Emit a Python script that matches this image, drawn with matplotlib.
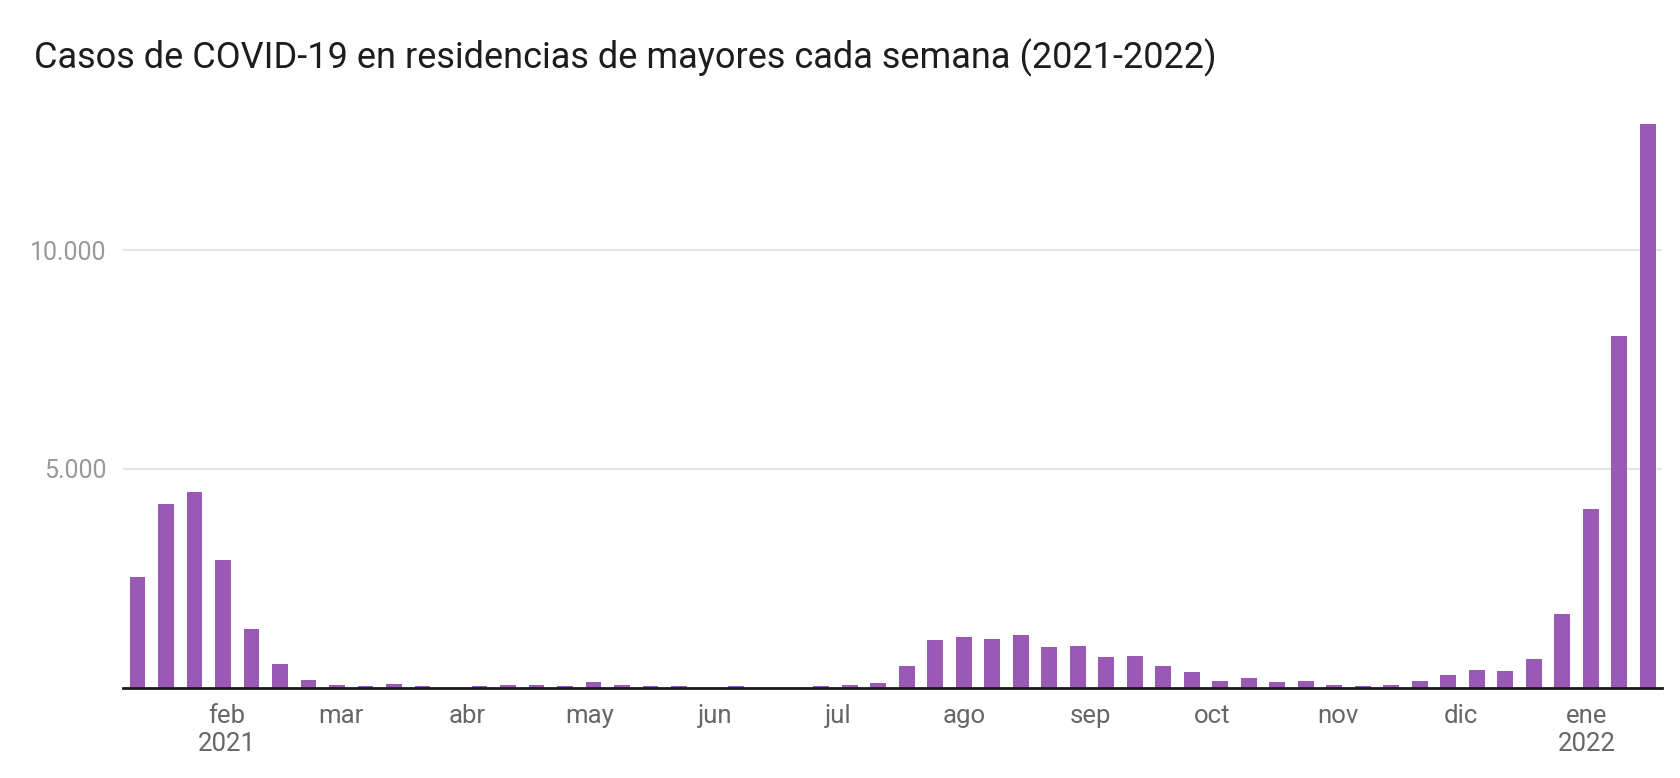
import matplotlib
matplotlib.use('Agg')
import matplotlib.pyplot as plt
import numpy as np

plt.rcParams['font.family'] = ['Roboto', 'DejaVu Sans']

# weekly cases, first week Jan 10 2021, last week Jan 16 2022
week_start = np.datetime64('2021-01-10')
cases = [2527, 4198, 4473, 2916, 1336, 534, 168, 53, 30, 76,
         30, 0, 30, 53, 53, 30, 122, 53, 35, 35,
         0, 35, 0, 0, 35, 61, 107, 495, 1090, 1158,
         1113, 1204, 930, 953, 701, 724, 495, 358, 152, 221,
         130, 152, 61, 38, 61, 152, 290, 404, 381, 655,
         1684, 4084, 8037, 12882]
weeks = week_start + np.arange(len(cases)) * np.timedelta64(7, 'D')

month_ticks = ['2021-02-01', '2021-03-01', '2021-04-01', '2021-05-01', '2021-06-01',
               '2021-07-01', '2021-08-01', '2021-09-01', '2021-10-01', '2021-11-01',
               '2021-12-01', '2022-01-01']
month_labels = ['feb\n2021', 'mar', 'abr', 'may', 'jun', 'jul', 'ago', 'sep',
                'oct', 'nov', 'dic', 'ene\n2022']
y_ticks = [5000, 10000]
y_labels = ['5.000', '10.000']

title = 'Casos de COVID-19 en residencias de mayores cada semana (2021-2022)'

fig = plt.figure(figsize=(16.8, 7.78), dpi=100)
ax = fig.add_axes([0.0734, 0.1161, 0.9159, 0.7256])

ax.bar(weeks, cases, width=3.9, color='#9b59b6', linewidth=0, zorder=3)

ax.set_xlim(weeks[0] - np.timedelta64(84, 'h'), weeks[-1] + np.timedelta64(84, 'h'))
ax.set_ylim(0, 12900)

ax.set_yticks(y_ticks)
ax.set_yticklabels(y_labels)
ax.set_xticks(np.array(month_ticks, dtype='datetime64[D]'))
ax.set_xticklabels(month_labels, linespacing=1.2)

ax.grid(axis='y', color='#e5e5e5', linewidth=1.5, zorder=0)
for s in ['top', 'right', 'left']:
    ax.spines[s].set_visible(False)
ax.spines['bottom'].set_color('#1a1a1a')
ax.spines['bottom'].set_linewidth(2)
ax.spines['bottom'].set_zorder(4)

ax.tick_params(axis='x', length=0, pad=12, labelsize=18.5, labelcolor='#666666')
ax.tick_params(axis='y', length=0, pad=12, labelsize=18, labelcolor='#999999')

fig.text(34 / 1680, 1 - 68 / 778, title, fontsize=26, color='#1d1d1d',
         ha='left', va='baseline')

fig.savefig('out.png', dpi=100)
